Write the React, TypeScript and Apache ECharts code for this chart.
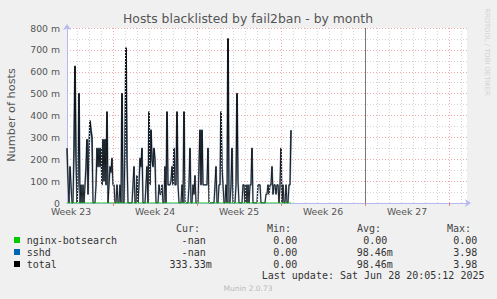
import React, { useEffect, useRef } from 'react';
import * as echarts from 'echarts';

// ---------- data (values in milli-hosts, one per 2-hour step) ----------
const sshdMilli: number[] = [
  250, 100, 0, 166, 83, 0, 0, 250, 625, 200,
  0, 83, 500, 0, 83, 0, 83, 0, 83, 166,
  290, 40, 250, 375, 333, 300, 0, 0, 0, 83,
  250, 166, 250, 166, 250, 83, 290, 100, 290, 83,
  416, 0, 83, 166, 140, 204, 83, 83, 0, 0,
  83, 0, 0, 83, 0, 500, 0, 0, 250, 708,
  200, 0, 0, 0, 0, 0, 83, 166, 0, 0,
  125, 0, 83, 204, 166, 250, 0, 0, 0, 83,
  166, 0, 416, 83, 333, 200, 166, 250, 200, 0,
  0, 0, 83, 40, 40, 83, 0, 0, 166, 0,
  416, 83, 83, 83, 100, 166, 83, 250, 83, 83,
  416, 83, 0, 0, 0, 83, 0, 416, 0, 0,
  0, 0, 83, 250, 0, 0, 83, 40, 125, 0,
  0, 0, 166, 333, 83, 333, 83, 83, 83, 83,
  83, 250, 0, 0, 0, 0, 0, 0, 83, 166,
  0, 0, 83, 83, 416, 166, 83, 0, 0, 83,
  0, 750, 0, 0, 83, 250, 0, 0, 0, 83,
  500, 100, 0, 0, 0, 0, 83, 83, 0, 83,
  0, 83, 0, 83, 83, 250, 0, 0, 0, 0,
  0, 83, 83, 83, 0, 0, 0, 0, 0, 40,
  40, 83, 40, 83, 83, 166, 40, 83, 83, 40,
  83, 83, 0, 83, 250, 0, 83, 0, 0, 83,
  0, 0, 83, 83, 333,
];
// nginx-botsearch reads 0 at every step (min = avg = max = 0.00)
const nginxMilli: number[] = sshdMilli.map(() => 0);
const totalMilli: number[] = sshdMilli.map((v, i) => v + nginxMilli[i]);

const weekLabels = ['Week 23', 'Week 24', 'Week 25', 'Week 26', 'Week 27'];
const yTickMilli = [0, 100, 200, 300, 400, 500, 600, 700, 800];

const legendNames = ['nginx-botsearch', 'sshd', 'total'];
const legendColors = ['#00cc00', '#0066b3', '#000000'];
const curValues = ['-nan', '-nan', '333.33m'];
const minValues = ['0.00', '0.00', '0.00'];
const avgValues = ['0.00', '98.46m', '98.46m'];
const maxValues = ['0.00', '3.98', '3.98'];
const lastUpdate = 'Last update: Sat Jun 28 20:05:12 2025';

// ---------- axis geometry (2-hour steps) ----------
const STEPS = 400;
const STEPS_PER_DAY = 12;
const STEPS_PER_WEEK = 84;
const FIRST_WEEK_START = -38;
const NOW_STEP = 298;

const RED = '#eeaaaa';
const GRAY = '#d4d4d4';
const TXT = '#555555';
const MONO = '"DejaVu Sans Mono", monospace';
const SANS = '"DejaVu Sans", sans-serif';

function txt(text: string, x: number, y: number, o: any = {}) {
  const align = o.align || 'left';
  const va = o.va || 'middle';
  return {
    type: 'text',
    x,
    y,
    rotation: o.rotation || 0,
    silent: true,
    style: {
      text,
      fill: o.color || '#333333',
      fontSize: o.size || 10,
      fontFamily: o.family || MONO,
      align,
      textAlign: align,
      verticalAlign: va,
      textVerticalAlign: va,
    },
  };
}

export default function App() {
  const ref = useRef<HTMLDivElement>(null);

  useEffect(() => {
    if (!ref.current) return;
    const chart = echarts.init(ref.current, undefined, { renderer: 'svg' });

    const dayLines: any[] = [];
    for (let k = 0; ; k++) {
      const v = FIRST_WEEK_START + k * STEPS_PER_DAY;
      if (v >= STEPS) break;
      if (v <= 0) continue;
      const isWeek = (v - FIRST_WEEK_START) % STEPS_PER_WEEK === 0;
      dayLines.push({
        xAxis: v,
        lineStyle: { color: isWeek ? RED : GRAY, type: [1, 2], width: 1 },
      });
    }
    dayLines.push({ xAxis: NOW_STEP, lineStyle: { color: '#777777', type: 'solid', width: 1 } });

    const weekStarts = weekLabels.map((_, k) => FIRST_WEEK_START + (k + 1) * STEPS_PER_WEEK);
    const weekCentres = weekLabels.map((_, k) => FIRST_WEEK_START + k * STEPS_PER_WEEK + STEPS_PER_WEEK / 2);

    const toPts = (arr: number[]) => arr.map((v, i) => [i, v / 1000]);

    const graphic: any[] = [
      txt('Hosts blacklisted by fail2ban - by month', 248, 18, { align: 'center', size: 12.4, family: SANS, color: TXT }),
      txt('Number of hosts', 11, 115, { align: 'center', size: 11.3, family: SANS, color: TXT, rotation: Math.PI / 2 }),
      txt('RRDTOOL / TOBI OETIKER', 487, 52, { align: 'center', size: 6.8, family: SANS, color: '#d0d0d0', rotation: -Math.PI / 2 }),
      txt('Cur:', 176, 228.5, { color: '#444' }),
      txt('Min:', 267, 228.5, { color: '#444' }),
      txt('Avg:', 357, 228.5, { color: '#444' }),
      txt('Max:', 447, 228.5, { color: '#444' }),
      txt(lastUpdate, 261.7, 275.7, { color: '#333' }),
      txt('Munin 2.0.73', 248, 288.5, { align: 'center', size: 7.5, family: SANS, color: '#bbbbbb' }),
    ];
    const rowY = [240, 252, 264];
    legendNames.forEach((name, r) => {
      const y = rowY[r];
      graphic.push({
        type: 'rect',
        silent: true,
        shape: { x: 14, y: y - 3, width: 6, height: 6 },
        style: { fill: legendColors[r] },
      });
      graphic.push(txt(name, 26.7, y));
      const cur = curValues[r];
      graphic.push(txt(cur, 211.7 - cur.length * 6.02 + (cur.endsWith('m') ? 0 : -6), y));
      graphic.push(txt(minValues[r], 273.3, y));
      const avg = avgValues[r];
      graphic.push(txt(avg, avg.endsWith('m') ? 356.7 : 363.3, y));
      graphic.push(txt(maxValues[r], 453.3, y));
    });

    const option: any = {
      animation: false,
      backgroundColor: '#f0f0f0',
      grid: {
        left: 67,
        top: 28,
        width: 400,
        height: 175,
        show: true,
        backgroundColor: '#ffffff',
        borderWidth: 0,
      },
      xAxis: {
        type: 'value',
        min: 0,
        max: STEPS,
        splitLine: { show: false },
        axisLine: {
          show: true,
          onZero: false,
          lineStyle: { color: '#b8b8f0', width: 1 },
          symbol: ['none', 'arrow'],
          symbolSize: [6, 6],
          symbolOffset: [0, 4],
        },
        axisTick: {
          show: true,
          customValues: weekStarts,
          length: 3,
          lineStyle: { color: '#e08080' },
        },
        axisLabel: {
          customValues: weekCentres,
          formatter: (v: number) => {
            const idx = weekCentres.findIndex((c) => Math.abs(c - v) < 0.5);
            return idx >= 0 ? weekLabels[idx] : '';
          },
          fontSize: 9.3,
          fontFamily: SANS,
          color: TXT,
          margin: 3.5,
        },
      },
      yAxis: {
        type: 'value',
        min: 0,
        max: 0.8,
        interval: 0.05,
        axisLine: {
          show: true,
          lineStyle: { color: '#b8b8f0', width: 1 },
          symbol: ['none', 'arrow'],
          symbolSize: [6, 6],
          symbolOffset: [0, 4],
        },
        axisTick: { show: false },
        splitLine: {
          show: true,
          lineStyle: { color: [RED, GRAY], type: [1, 2], width: 1 },
        },
        axisLabel: {
          formatter: (v: number) => {
            const m = Math.round(v * 1000);
            if (!yTickMilli.includes(m)) return '';
            return m === 0 ? '0' : `${m} m`;
          },
          fontSize: 9.3,
          fontFamily: SANS,
          color: TXT,
          margin: 7,
        },
      },
      series: [
        {
          name: 'sshd',
          type: 'line',
          data: toPts(sshdMilli),
          symbol: 'none',
          lineStyle: {
            width: 1.8,
            join: 'round',
            color: new echarts.graphic.LinearGradient(0, 0, 0, 1, [
              { offset: 0, color: '#22303e' },
              { offset: 0.6, color: '#4a6480' },
              { offset: 1, color: '#a4b8cc' },
            ]),
          },
          z: 2,
          markLine: {
            silent: true,
            symbol: 'none',
            label: { show: false },
            data: dayLines,
          },
        },
        {
          name: 'total',
          type: 'line',
          data: toPts(totalMilli),
          symbol: 'none',
          lineStyle: { color: '#000000', width: 0.8, join: 'round' },
          z: 3,
        },
        {
          name: 'nginx-botsearch',
          type: 'line',
          data: toPts(nginxMilli),
          symbol: 'none',
          lineStyle: { color: '#00cc00', width: 1 },
          z: 4,
        },
      ],
      graphic,
    };

    chart.setOption(option);
    return () => chart.dispose();
  }, []);

  return (
    <div
      ref={ref}
      style={{ position: 'absolute', left: 0, top: 0, width: 497, height: 299 }}
    />
  );
}
